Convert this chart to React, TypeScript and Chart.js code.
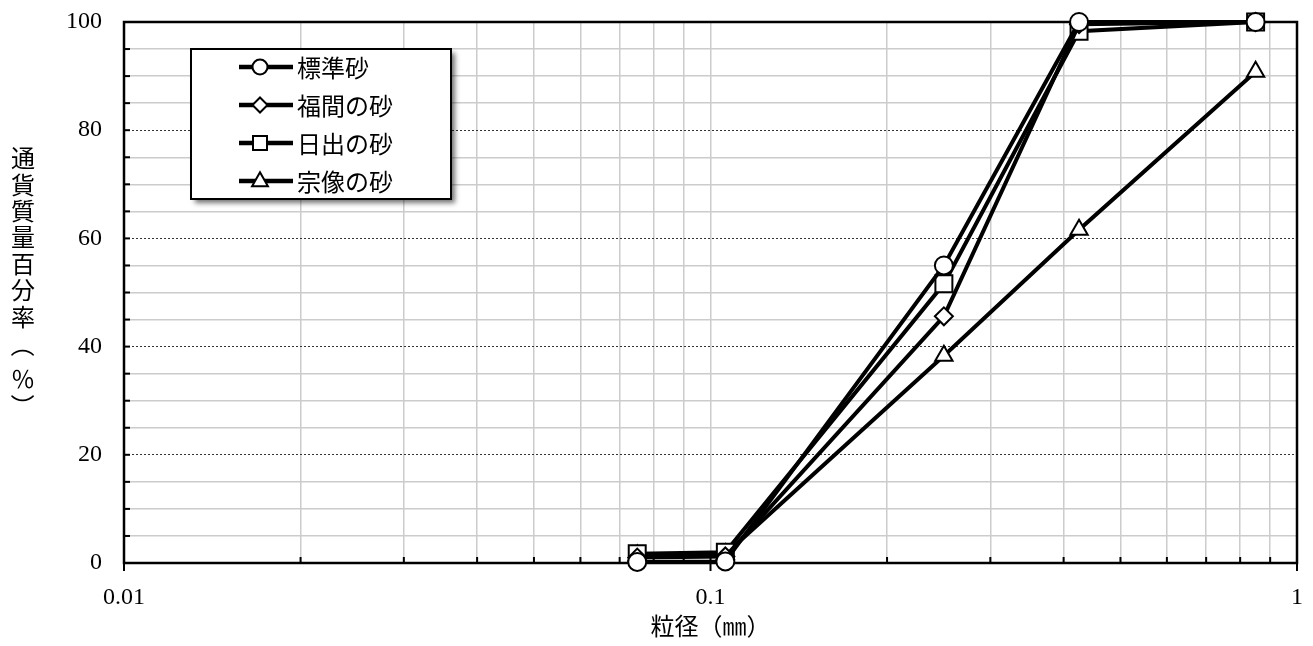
import { useEffect, useRef } from "react";
import { Chart, registerables } from "chart.js";

Chart.register(...registerables);

// Sieve sizes (mm) and percent passing for each sand
const sieveSizes = [0.075, 0.106, 0.25, 0.425, 0.85];
const standardSand = [0.2, 0.3, 55.0, 100, 100];
const fukumaSand = [1.0, 1.2, 45.6, 99.6, 100];
const hijiSand = [1.7, 2.0, 51.6, 98.3, 100];
const munakataSand = [1.4, 1.6, 38.3, 61.6, 90.8];

const seriesNames = ["標準砂", "福間の砂", "日出の砂", "宗像の砂"];
const seriesValues = [standardSand, fukumaSand, hijiSand, munakataSand];
const seriesMarkers = ["circle", "rectRot", "rect", "triangle"] as const;
const markerRadii = [9, 9, 12, 10];

// Log axis grid positions and the labelled decades
const xGridValues = [
  0.01, 0.02, 0.03, 0.04, 0.05, 0.06, 0.07, 0.08, 0.09,
  0.1, 0.2, 0.3, 0.4, 0.5, 0.6, 0.7, 0.8, 0.9, 1,
];
const xLabelValues = [0.01, 0.1, 1];
const yMajorStep = 20;
const yMinorStep = 5;

const xTitle = "粒径（㎜）";
const yTitleChars = ["通", "貨", "質", "量", "百", "分", "率"];
const yTitleUnit = ["（", "％", "）"];

const FONT = "'Liberation Serif', 'Noto Sans CJK JP', serif";
const CJK_FONT = "'Noto Sans CJK JP', 'Liberation Serif', sans-serif";

function markerPath(
  ctx: CanvasRenderingContext2D,
  style: string,
  x: number,
  y: number,
  r: number
) {
  ctx.beginPath();
  if (style === "circle") {
    ctx.arc(x, y, r, 0, Math.PI * 2);
  } else if (style === "rectRot") {
    ctx.moveTo(x, y - r);
    ctx.lineTo(x + r, y);
    ctx.lineTo(x, y + r);
    ctx.lineTo(x - r, y);
    ctx.closePath();
  } else if (style === "rect") {
    ctx.rect(x - r, y - r, 2 * r, 2 * r);
  } else {
    const h = r * 1.1;
    ctx.moveTo(x, y - h);
    ctx.lineTo(x + h * 0.9, y + h * 0.6);
    ctx.lineTo(x - h * 0.9, y + h * 0.6);
    ctx.closePath();
  }
}

// Frame around the plot plus small inward tick marks
const framePlugin = {
  id: "frame",
  beforeDatasetsDraw(chart: any) {
    const { ctx, chartArea } = chart;
    const { left, right, top, bottom } = chartArea;
    const xs = chart.scales.x;
    const ys = chart.scales.y;
    ctx.save();
    ctx.strokeStyle = "#000";
    ctx.lineWidth = 2;
    for (let v = 0; v <= 100; v += yMinorStep) {
      const py = ys.getPixelForValue(v);
      ctx.beginPath();
      ctx.moveTo(left, py);
      ctx.lineTo(left + 6, py);
      ctx.stroke();
    }
    xGridValues.forEach((v) => {
      const px = xs.getPixelForValue(v);
      ctx.beginPath();
      ctx.moveTo(px, bottom);
      ctx.lineTo(px, bottom - 6);
      if (xLabelValues.includes(v)) {
        ctx.moveTo(px, bottom);
        ctx.lineTo(px, bottom + 8);
      }
      ctx.stroke();
    });
    ctx.lineWidth = 2.5;
    ctx.strokeRect(left, top, right - left, bottom - top);
    ctx.restore();
  },
};

// Vertical y-axis title with upright characters
const yTitlePlugin = {
  id: "yTitle",
  afterDraw(chart: any) {
    const { ctx } = chart;
    ctx.save();
    ctx.fillStyle = "#000";
    ctx.font = `24px ${CJK_FONT}`;
    ctx.textAlign = "center";
    ctx.textBaseline = "middle";
    const cx = 23;
    yTitleChars.forEach((ch, i) => {
      ctx.fillText(ch, cx, 158 + i * 26.4);
    });
    const unitY = [345, 379, 406];
    yTitleUnit.forEach((ch, i) => {
      if (ch === "（" || ch === "）") {
        ctx.save();
        ctx.translate(cx, unitY[i]);
        ctx.rotate(Math.PI / 2);
        ctx.fillText(ch, 0, 0);
        ctx.restore();
      } else {
        ctx.fillText(ch, cx, unitY[i]);
      }
    });
    ctx.restore();
  },
};

// Boxed legend with a drop shadow inside the plot area
const legendPlugin = {
  id: "boxLegend",
  afterDraw(chart: any) {
    const { ctx } = chart;
    const bx = 191, by = 49, bw = 260, bh = 150;
    ctx.save();
    ctx.shadowColor = "rgba(0,0,0,0.55)";
    ctx.shadowBlur = 5;
    ctx.shadowOffsetX = 4;
    ctx.shadowOffsetY = 4;
    ctx.fillStyle = "#fff";
    ctx.fillRect(bx, by, bw, bh);
    ctx.restore();

    ctx.save();
    ctx.strokeStyle = "#000";
    ctx.lineWidth = 2;
    ctx.strokeRect(bx, by, bw, bh);
    const rows = [67, 105, 143, 181];
    const legendR = [7.5, 7.5, 7, 8];
    seriesNames.forEach((name, i) => {
      const y = rows[i];
      ctx.strokeStyle = "#000";
      ctx.lineWidth = 4.5;
      ctx.beginPath();
      ctx.moveTo(239, y);
      ctx.lineTo(293, y);
      ctx.stroke();
      markerPath(ctx, seriesMarkers[i], 260, y, legendR[i]);
      ctx.fillStyle = "#fff";
      ctx.fill();
      ctx.lineWidth = 2;
      ctx.stroke();
      ctx.fillStyle = "#000";
      ctx.font = `24px ${CJK_FONT}`;
      ctx.textAlign = "left";
      ctx.textBaseline = "middle";
      ctx.fillText(name, 297, y + 1);
    });
    ctx.restore();
  },
};

export default function App() {
  const canvasRef = useRef<HTMLCanvasElement | null>(null);

  useEffect(() => {
    const canvas = canvasRef.current;
    if (!canvas) return;

    const datasets = seriesNames.map((name, i) => ({
      label: name,
      data: sieveSizes.map((x, j) => ({ x, y: seriesValues[i][j] })),
      borderColor: "#000",
      borderWidth: 4,
      pointStyle: seriesMarkers[i],
      pointRadius: markerRadii[i],
      pointBorderWidth: 2,
      pointBorderColor: "#000",
      pointBackgroundColor: "#fff",
      tension: 0,
      clip: false as const,
    }));

    const chart = new Chart(canvas, {
      type: "line",
      data: { datasets },
      plugins: [framePlugin, yTitlePlugin, legendPlugin],
      options: {
        animation: false,
        responsive: false,
        events: [],
        layout: { padding: { top: 22, right: 16, bottom: 0, left: 0 } },
        plugins: {
          legend: { display: false },
          tooltip: { enabled: false },
        },
        scales: {
          x: {
            type: "logarithmic",
            min: 0.01,
            max: 1,
            z: -1,
            afterBuildTicks: (scale: any) => {
              scale.ticks = xGridValues.map((value) => ({ value }));
            },
            afterFit: (scale: any) => {
              scale.height = 83;
              scale.paddingLeft = 0;
              scale.paddingRight = 0;
            },
            ticks: {
              autoSkip: false,
              maxRotation: 0,
              padding: 20,
              color: "#000",
              font: { family: FONT, size: 24 },
              callback: (value: any) =>
                xLabelValues.includes(Number(value)) ? String(value) : "",
            },
            grid: { color: "#cccccc", lineWidth: 1.5, drawTicks: false },
            border: { display: false },
            title: {
              display: true,
              text: xTitle,
              color: "#000",
              font: { family: FONT, size: 24 },
              padding: { top: 0, bottom: 3 },
            },
          },
          y2: {
            type: "linear",
            position: "left",
            min: 0,
            max: 100,
            z: -1,
            afterFit: (scale: any) => {
              scale.width = 0;
              scale.paddingTop = 0;
              scale.paddingBottom = 0;
            },
            ticks: { display: false, stepSize: yMinorStep },
            grid: {
              drawTicks: false,
              lineWidth: 1.5,
              color: (c: any) =>
                c.tick && c.tick.value % yMajorStep === 0
                  ? "rgba(0,0,0,0)"
                  : "#cccccc",
            },
            border: { display: false },
          },
          y: {
            type: "linear",
            position: "left",
            min: 0,
            max: 100,
            afterFit: (scale: any) => {
              scale.width = 124;
              scale.paddingTop = 0;
              scale.paddingBottom = 0;
            },
            ticks: {
              stepSize: yMajorStep,
              padding: 22,
              color: "#000",
              font: { family: FONT, size: 24 },
            },
            grid: { drawTicks: false, color: "#333", lineWidth: 1 },
            border: { display: false, dash: [2, 2] },
          },
        },
      } as any,
    });

    return () => chart.destroy();
  }, []);

  return (
    <div style={{ position: "fixed", left: 0, top: 0, width: 1313, height: 646, background: "#fff" }}>
      <canvas ref={canvasRef} width={1313} height={646} />
    </div>
  );
}
